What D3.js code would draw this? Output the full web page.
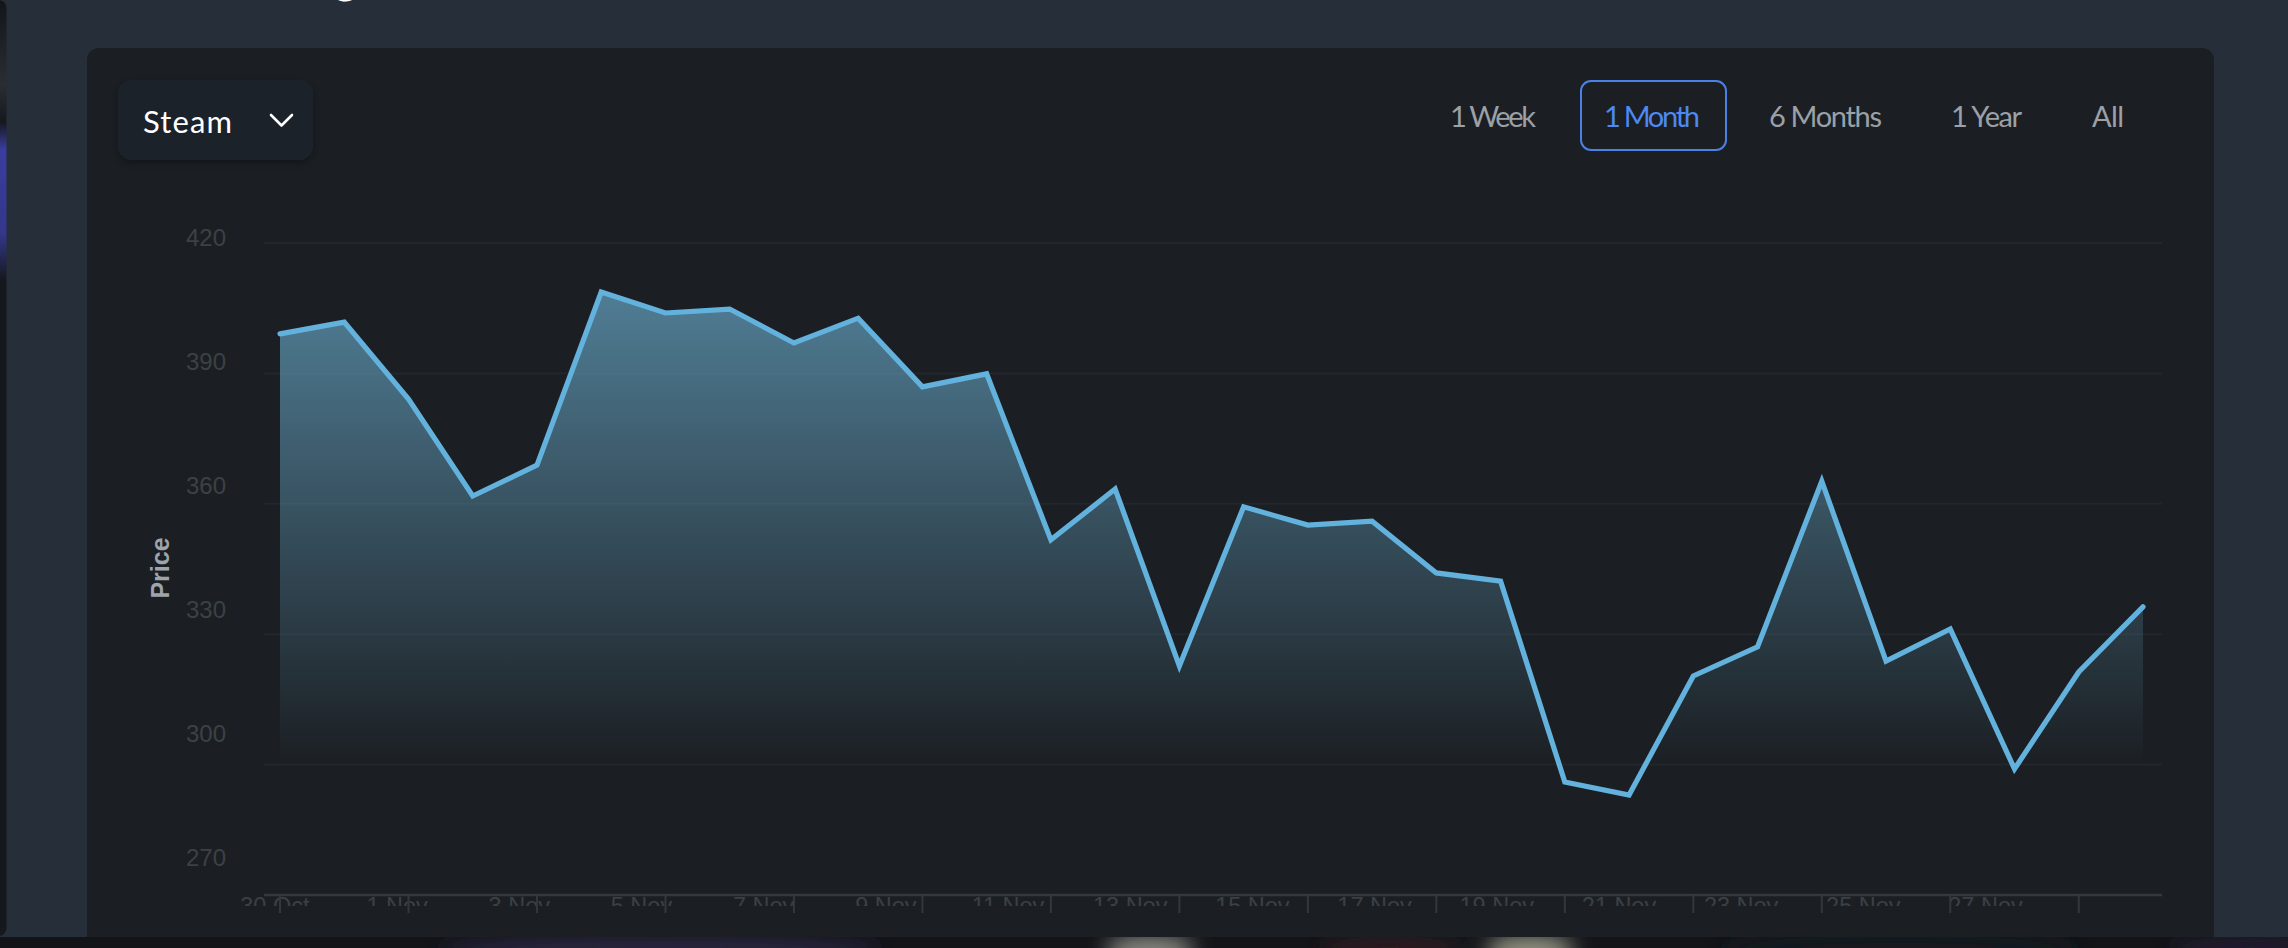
<!DOCTYPE html>
<html>
<head>
<meta charset="utf-8">
<script src="https://cdn.jsdelivr.net/npm/d3@7"></script>
<style>
  html, body { margin: 0; padding: 0; background: #252e39; overflow: hidden; }
  svg { display: block; }
</style>
</head>
<body>
<svg id="chart" width="2288" height="948"></svg>
<script>
// ---------------- DATA ----------------
const dates = [
  "2023-10-30","2023-10-31","2023-11-01","2023-11-02","2023-11-03","2023-11-04",
  "2023-11-05","2023-11-06","2023-11-07","2023-11-08","2023-11-09","2023-11-10",
  "2023-11-11","2023-11-12","2023-11-13","2023-11-14","2023-11-15","2023-11-16",
  "2023-11-17","2023-11-18","2023-11-19","2023-11-20","2023-11-21","2023-11-22",
  "2023-11-23","2023-11-24","2023-11-25","2023-11-26","2023-11-27","2023-11-28"
];
const prices = [
  399.1, 401.8, 384.1, 361.8, 368.9, 408.7, 403.9, 404.8, 397.0, 402.7,
  386.9, 389.9, 351.7, 363.4, 322.7, 359.3, 355.1, 356.0, 344.1, 342.2,
  296.0, 293.0, 320.4, 327.1, 365.2, 323.8, 331.2, 299.0, 321.3, 336.3
];
const xTickDates = [
  "2023-10-30","2023-11-01","2023-11-03","2023-11-05","2023-11-07","2023-11-09",
  "2023-11-11","2023-11-13","2023-11-15","2023-11-17","2023-11-19","2023-11-21",
  "2023-11-23","2023-11-25","2023-11-27"
];
const xTickLabels = [
  "30 Oct","1 Nov","3 Nov","5 Nov","7 Nov","9 Nov","11 Nov","13 Nov",
  "15 Nov","17 Nov","19 Nov","21 Nov","23 Nov","25 Nov","27 Nov"
];
const yTicks = [270, 300, 330, 360, 390, 420];
const ranges = ["1 Week", "1 Month", "6 Months", "1 Year", "All"];
const selectedRange = "1 Month";
const platform = "Steam";
const yTitle = "Price";

// ---------------- SETUP ----------------
const parse = d3.utcParse("%Y-%m-%d");
const data = dates.map((d, i) => ({ date: parse(d), value: prices[i] }));
const svg = d3.select("#chart");
const W = 2288, H = 948;
const defs = svg.append("defs");

// page background
svg.append("rect").attr("width", W).attr("height", H).attr("fill", "#252e39");

// left edge strip (neighbouring window)
const lg = defs.append("linearGradient").attr("id", "leftStrip")
  .attr("x1", 0).attr("y1", 0).attr("x2", 0).attr("y2", 1);
[[0, "#121519"], [0.09, "#2a2d31"], [0.13, "#15181c"], [0.16, "#3a3d9e"], [0.25, "#34378a"], [0.3, "#15181c"], [1, "#15181c"]]
  .forEach(([o, c]) => lg.append("stop").attr("offset", o).attr("stop-color", c));
svg.append("rect").attr("x", -10).attr("y", 0).attr("width", 16.5).attr("height", 936)
  .attr("rx", 8).attr("fill", "url(#leftStrip)");

// title (mostly cut off at top, as in the original screenshot)
svg.append("text").attr("x", 85).attr("y", -6)
  .attr("font-family", "Lato, sans-serif").attr("font-weight", 700)
  .attr("font-size", 44).attr("fill", "#ffffff").text("Price Tracking");

// card
svg.append("rect").attr("x", 87).attr("y", 48).attr("width", 2127).attr("height", 920)
  .attr("rx", 12).attr("fill", "#1b1f23");

// bottom strip (taskbar-like, blurred)
const blur = defs.append("filter").attr("id", "blur").attr("x", "-50%").attr("y", "-200%")
  .attr("width", "200%").attr("height", "500%");
blur.append("feGaussianBlur").attr("stdDeviation", 10);
const bottom = svg.append("g");
bottom.append("rect").attr("x", 0).attr("y", 937).attr("width", W).attr("height", 11).attr("fill", "#121418");
const bclip = defs.append("clipPath").attr("id", "bclip");
bclip.append("rect").attr("x", 0).attr("y", 937).attr("width", W).attr("height", 11);
const blobs = bottom.append("g").attr("clip-path", "url(#bclip)").append("g").attr("filter", "url(#blur)");
[[660, 220, "#2c2743"], [1150, 45, "#8d8d86"], [1390, 70, "#2e1f24"], [1530, 45, "#9a9a88"], [1900, 180, "#161a22"], [2250, 80, "#231c2d"]]
  .forEach(([cx, rx, c]) => blobs.append("ellipse").attr("cx", cx).attr("cy", 950).attr("rx", rx).attr("ry", 14).attr("fill", c));

// ---------------- DROPDOWN ----------------
const shadow = defs.append("filter").attr("id", "shadow").attr("x", "-20%").attr("y", "-20%")
  .attr("width", "140%").attr("height", "150%");
shadow.append("feDropShadow").attr("dx", 0).attr("dy", 3).attr("stdDeviation", 4)
  .attr("flood-color", "#000").attr("flood-opacity", 0.35);
svg.append("rect").attr("x", 118).attr("y", 80).attr("width", 195).attr("height", 80)
  .attr("rx", 14).attr("fill", "#1f2429").attr("filter", "url(#shadow)");
svg.append("text").attr("x", 143).attr("y", 133)
  .attr("font-family", "Lato, sans-serif").attr("font-size", 31).attr("fill", "#ffffff")
  .attr("textLength", 89).text(platform);
svg.append("polyline").attr("points", "271,115 281.5,125.5 292,115")
  .attr("fill", "none").attr("stroke", "#ffffff").attr("stroke-width", 2.6)
  .attr("stroke-linecap", "round").attr("stroke-linejoin", "round");

// ---------------- RANGE BUTTONS ----------------
const btnText = { "1 Week": [1450, 86], "1 Month": [1604, 96], "6 Months": [1769, 113], "1 Year": [1951, 71], "All": [2092, 32] };
svg.append("rect").attr("x", 1581).attr("y", 81).attr("width", 145).attr("height", 69)
  .attr("rx", 10).attr("fill", "none").attr("stroke", "#4b80e4").attr("stroke-width", 2);
svg.append("g").selectAll("text").data(ranges).join("text")
  .attr("x", d => btnText[d][0]).attr("y", 127)
  .attr("textLength", d => btnText[d][1])
  .attr("font-family", "Lato, sans-serif").attr("font-size", 29)
  .attr("fill", d => d === selectedRange ? "#4e88f2" : "#9ca0a7")
  .text(d => d);

// ---------------- SCALES ----------------
const x = d3.scaleUtc().domain(d3.extent(data, d => d.date)).range([280, 2143]);
const y = d3.scaleLinear().domain([270, 420]).range([895, 243]);
const plotLeft = 264, plotRight = 2162;
// text layer of the original is drawn at ~95% scale about (176,120)
const k = 0.951, fx = 176, fy = 120;
const lx = v => fx + k * (x(v) - fx);
const ly = v => fy + k * (y(v) - fy);

// gridlines
svg.append("g").selectAll("line").data(yTicks.filter(t => t !== 270)).join("line")
  .attr("x1", plotLeft).attr("x2", plotRight)
  .attr("y1", d => y(d)).attr("y2", d => y(d))
  .attr("stroke", "#22272c").attr("stroke-width", 2);

// area gradient
const ag = defs.append("linearGradient").attr("id", "areaGrad")
  .attr("gradientUnits", "userSpaceOnUse")
  .attr("x1", 0).attr("x2", 0).attr("y1", y(420)).attr("y2", 765);
ag.append("stop").attr("offset", 0).attr("stop-color", "#64a1c0").attr("stop-opacity", 0.8);
ag.append("stop").attr("offset", 1).attr("stop-color", "#64a1c0").attr("stop-opacity", 0.0);

const area = d3.area().x(d => x(d.date)).y0(y(270)).y1(d => y(d.value));
svg.append("path").datum(data).attr("d", area).attr("fill", "url(#areaGrad)");

// x axis line
svg.append("line").attr("x1", plotLeft).attr("x2", plotRight)
  .attr("y1", y(270)).attr("y2", y(270))
  .attr("stroke", "#33383d").attr("stroke-width", 2.5);

// x tick labels (clipped)
const xclip = defs.append("clipPath").attr("id", "xclip");
xclip.append("rect").attr("x", 0).attr("y", 880).attr("width", W).attr("height", 26);
svg.append("g").attr("clip-path", "url(#xclip)").selectAll("text").data(xTickDates).join("text")
  .attr("x", d => lx(parse(d))).attr("y", 914)
  .attr("text-anchor", "middle")
  .attr("font-family", "'Liberation Sans', Arial, sans-serif").attr("font-size", 23.5)
  .attr("fill", "#3b4046")
  .text((d, i) => xTickLabels[i]);

// x ticks
svg.append("g").selectAll("line").data(xTickDates).join("line")
  .attr("x1", d => x(parse(d))).attr("x2", d => x(parse(d)))
  .attr("y1", y(270)).attr("y2", 913)
  .attr("stroke", "#33383d").attr("stroke-width", 2);

// y tick labels
svg.append("g").selectAll("text").data(yTicks).join("text")
  .attr("x", 226).attr("y", d => ly(d)).attr("dy", "0.36em")
  .attr("text-anchor", "end")
  .attr("font-family", "'Liberation Sans', Arial, sans-serif").attr("font-size", 24)
  .attr("fill", "#3c4146")
  .text(d => d);

// y title
svg.append("text").attr("transform", "translate(169,568) rotate(-90)")
  .attr("text-anchor", "middle")
  .attr("font-family", "'Liberation Sans', Arial, sans-serif").attr("font-weight", 700)
  .attr("font-size", 25).attr("fill", "#9fa4aa").text(yTitle);

// line
const line = d3.line().x(d => x(d.date)).y(d => y(d.value));
svg.append("path").datum(data).attr("d", line)
  .attr("fill", "none").attr("stroke", "#62b2dd").attr("stroke-width", 5.2)
  .attr("stroke-linejoin", "miter").attr("stroke-linecap", "round");
</script>
</body>
</html>
